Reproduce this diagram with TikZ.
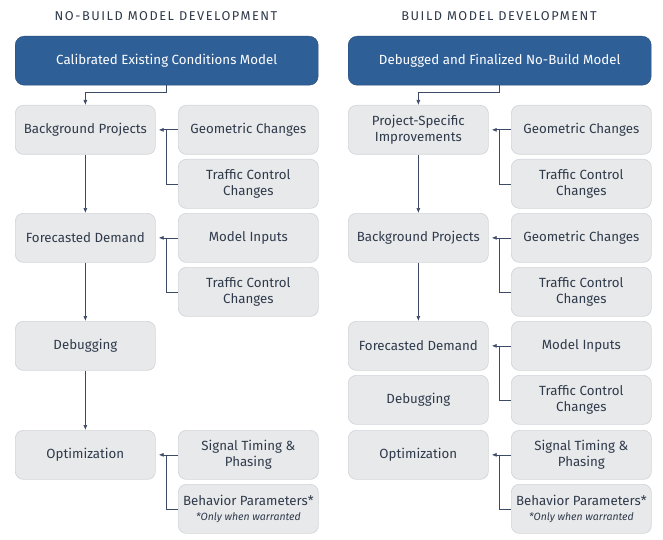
\documentclass[tikz,border=0pt]{standalone}
\usepackage{fontspec}
\setmainfont{Fira Sans}
\newfontfamily\hdfont[LetterSpace=12]{Fira Sans}
\usetikzlibrary{arrows.meta}
\definecolor{boxfill}{HTML}{E8E9EB}
\definecolor{boxline}{HTML}{D2D5D9}
\definecolor{topblue}{HTML}{2F5F97}
\definecolor{lnc}{HTML}{3C4A66}
\definecolor{txt}{HTML}{2F3A4A}
\tikzset{x=1pt,y=-1pt,
 gbox/.style={draw=boxline,fill=boxfill,rounded corners=8pt,line width=0.7pt,minimum width=140pt,minimum height=49pt,align=center,font=\fontsize{13.3}{15.5}\selectfont,text=txt,anchor=north west,inner sep=1pt},
 tbox/.style={draw=topblue!80!black,fill=topblue,rounded corners=9pt,minimum width=303pt,minimum height=49pt,font=\fontsize{13.3}{15.5}\selectfont,text=white,anchor=north west},
 hd/.style={font=\hdfont\fontsize{12.8}{15}\selectfont,text=txt},
 ln/.style={draw=lnc,line width=0.7pt},
 ar/.style={ln,-{Latex[length=5pt,width=4pt]}}}
\newcommand{\warr}{\\[-1pt]{\fontsize{10.5}{12}\selectfont\itshape *Only when warranted}}
\begin{document}
\begin{tikzpicture}
\useasboundingbox (0,0) rectangle (663,540);
\node[hd] (h1) at (166,16) {NO-BUILD MODEL DEVELOPMENT};
\node[hd] (h2) at (499,16) {BUILD MODEL DEVELOPMENT};
% left column
\node[tbox] (t1) at (15,36) {Calibrated Existing Conditions Model};
\node[gbox] (a1) at (15,105) {Background Projects};
\node[gbox] (b1) at (178,105) {Geometric Changes};
\node[gbox] (b2) at (178,159) {Traffic Control\\Changes};
\node[gbox] (a2) at (15,213) {Forecasted Demand};
\node[gbox] (b3) at (178,213) {Model Inputs};
\node[gbox] (b4) at (178,267) {Traffic Control\\Changes};
\node[gbox] (a3) at (15,321) {Debugging};
\node[gbox] (a4) at (15,430) {Optimization};
\node[gbox] (b5) at (178,430) {Signal Timing \&\\Phasing};
\node[gbox] (b6) at (178,484) {Behavior Parameters*\warr};
% right column
\node[tbox] (t2) at (348,36) {Debugged and Finalized No-Build Model};
\node[gbox] (c1) at (348,105) {Project-Specific\\Improvements};
\node[gbox] (d1) at (511,105) {Geometric Changes};
\node[gbox] (d2) at (511,159) {Traffic Control\\Changes};
\node[gbox] (c2) at (348,213) {Background Projects};
\node[gbox] (d3) at (511,213) {Geometric Changes};
\node[gbox] (d4) at (511,267) {Traffic Control\\Changes};
\node[gbox] (c3) at (348,321) {Forecasted Demand};
\node[gbox] (d5) at (511,321) {Model Inputs};
\node[gbox] (d6) at (511,375) {Traffic Control\\Changes};
\node[gbox] (c4) at (348,375) {Debugging};
\node[gbox] (c5) at (348,430) {Optimization};
\node[gbox] (d7) at (511,430) {Signal Timing \&\\Phasing};
\node[gbox] (d8) at (511,484) {Behavior Parameters*\warr};
% connectors left
\draw[ar] (t1.south) -- ++(0,7) -| (a1.north);
\draw[ar] (a1) -- (a2);
\draw[ar] (a2) -- (a3);
\draw[ar] (a3) -- (a4);
\draw[ar] (b1.west) -- ([xshift=3pt]a1.east);
\draw[ln] ([xshift=-12pt]b1.west) |- (b2.west);
\draw[ar] (b3.west) -- ([xshift=3pt]a2.east);
\draw[ln] ([xshift=-12pt]b3.west) |- (b4.west);
\draw[ar] (b5.west) -- ([xshift=3pt]a4.east);
\draw[ln] ([xshift=-12pt]b5.west) |- (b6.west);
% connectors right
\draw[ar] (t2.south) -- ++(0,7) -| (c1.north);
\draw[ar] (c1) -- (c2);
\draw[ar] (c2) -- (c3);
\draw[ar] (d1.west) -- ([xshift=3pt]c1.east);
\draw[ln] ([xshift=-12pt]d1.west) |- (d2.west);
\draw[ar] (d3.west) -- ([xshift=3pt]c2.east);
\draw[ln] ([xshift=-12pt]d3.west) |- (d4.west);
\draw[ar] (d5.west) -- ([xshift=3pt]c3.east);
\draw[ln] ([xshift=-12pt]d5.west) |- (d6.west);
\draw[ar] (d7.west) -- ([xshift=3pt]c5.east);
\draw[ln] ([xshift=-12pt]d7.west) |- (d8.west);
\end{tikzpicture}
\end{document}
